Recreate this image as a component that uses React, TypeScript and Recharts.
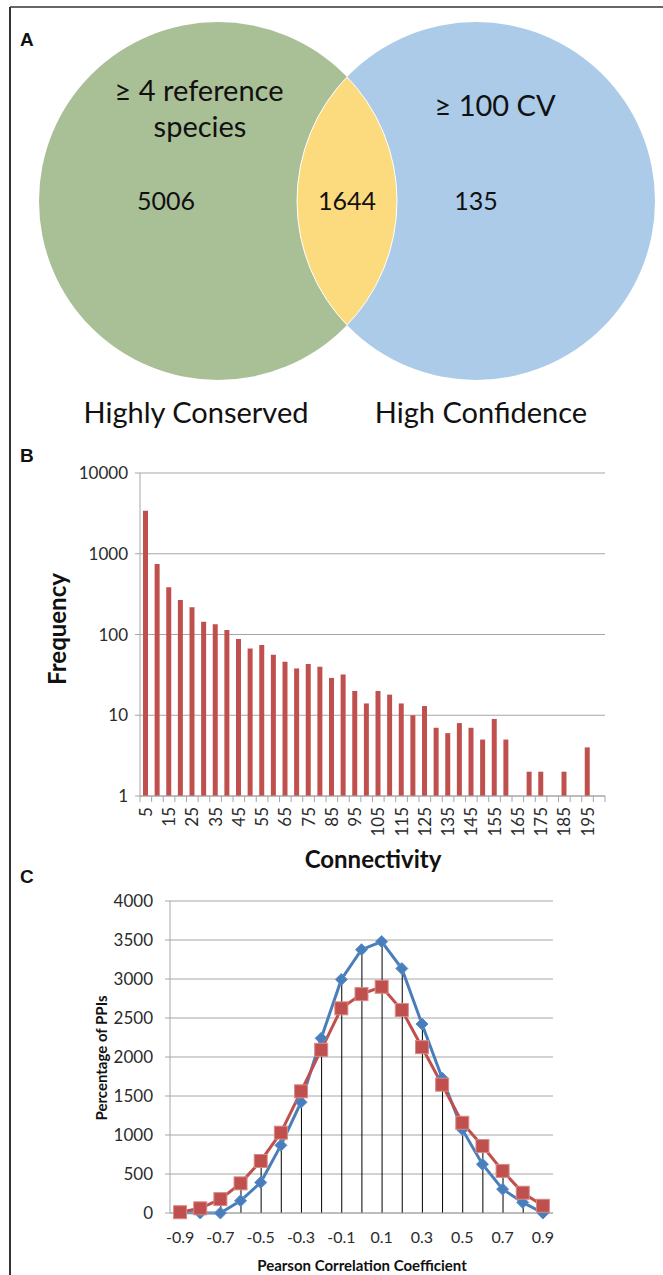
import React from 'react';
import { BarChart, Bar, ComposedChart, Line, XAxis, YAxis, CartesianGrid } from 'recharts';

// Panel A — Venn counts
const vennLeftLabel = ['≥ 4 reference', 'species'];
const vennRightLabel = '≥ 100 CV';
const vennCounts = { conservedOnly: 5006, both: 1644, confidenceOnly: 135 };
const vennSetNames = ['Highly Conserved', 'High Confidence'];

// Panel B — connectivity histogram (log scale)
const connectivity = [
  '5', '10', '15', '20', '25', '30', '35', '40', '45', '50',
  '55', '60', '65', '70', '75', '80', '85', '90', '95', '100',
  '105', '110', '115', '120', '125', '130', '135', '140', '145', '150',
  '155', '160', '165', '170', '175', '180', '185', '190', '195', '200',
];
const frequency = [
  3400, 746, 384, 267, 217, 144, 134, 114, 88, 67,
  74, 56, 46, 38, 43, 40, 29, 32, 20, 14,
  20, 18, 14, 10, 13, 7, 6, 8, 7, 5,
  9, 5, null, 2, 2, null, 2, null, 4, null,
];
const freqTicks = [1, 10, 100, 1000, 10000];

// Panel C — Pearson correlation distribution
const pearson = ['-0.9', '-0.8', '-0.7', '-0.6', '-0.5', '-0.4', '-0.3', '-0.2', '-0.1', '0',
  '0.1', '0.2', '0.3', '0.4', '0.5', '0.6', '0.7', '0.8', '0.9'];
const blueSeries = [5, 0, 0, 157, 391, 867, 1420, 2240, 2994, 3376, 3480, 3134, 2423, 1730, 1071, 625, 306, 136, 0];
const redSeries = [10, 60, 178, 380, 667, 1030, 1560, 2092, 2624, 2806, 2900, 2602, 2126, 1645, 1157, 858, 540, 260, 93];
const ppiTicks = [0, 500, 1000, 1500, 2000, 2500, 3000, 3500, 4000];

const histData = connectivity.map((c, i) => ({ c, f: frequency[i] }));
const pearsonData = pearson.map((p, i) => ({ p, blue: blueSeries[i], red: redSeries[i] }));

const FONT = 'Lato, "Open Sans", sans-serif';
const GRID = '#a6a6a6';
const TXT = '#2b2b2b';
const RED = '#C0504D';
const BLUE = '#4A7EBB';

function ConnTick(props: any) {
  const { x, y, index, visibleTicksCount, width, payload } = props;
  const band = (width || 465) / (visibleTicksCount || 40);
  const left = x - band / 2;
  return (
    <g>
      <line x1={left} x2={left} y1={y} y2={y + 6} stroke={GRID} />
      {index === visibleTicksCount - 1 && (
        <line x1={x + band / 2} x2={x + band / 2} y1={y} y2={y + 6} stroke={GRID} />
      )}
      {index % 2 === 0 && (
        <text
          x={x}
          y={y + 11}
          transform={`rotate(-90 ${x} ${y + 11})`}
          textAnchor="end"
          dy="0.36em"
          fontSize={17}
          fontFamily={FONT}
          fill={TXT}
        >
          {payload.value}
        </text>
      )}
    </g>
  );
}

function Diamond(props: any) {
  const { cx, cy, index } = props;
  if (cx == null || cy == null) return <g key={index} />;
  const s = 6;
  return (
    <path
      key={index}
      d={`M${cx},${cy - s} L${cx + s},${cy} L${cx},${cy + s} L${cx - s},${cy} Z`}
      fill={BLUE}
      stroke="#5B8FD0"
      strokeWidth={1}
    />
  );
}

function Square(props: any) {
  const { cx, cy, index } = props;
  if (cx == null || cy == null) return <g key={index} />;
  const s = 6.5;
  return <rect key={index} x={cx - s} y={cy - s} width={2 * s} height={2 * s} fill={RED} stroke="#D98A88" strokeWidth={1} />;
}

function DropLine(props: any) {
  const { x, y, width, height } = props;
  if (height == null || height <= 0) return <g />;
  const cx = x + width / 2;
  return <line x1={cx} x2={cx} y1={y} y2={y + height} stroke="#000" strokeWidth={1} />;
}

function Venn() {
  const cy = 201;
  const r = 179;
  const gx = 218;
  const bx = 476;
  return (
    <svg width={663} height={440} style={{ position: 'absolute', left: 0, top: 0 }}>
      <defs>
        <clipPath id="greenClip">
          <circle cx={gx} cy={cy} r={r} />
        </clipPath>
        <clipPath id="blueClip">
          <circle cx={bx} cy={cy} r={r} />
        </clipPath>
      </defs>
      <circle cx={gx} cy={cy} r={r} fill="#A9BF96" />
      <circle cx={bx} cy={cy} r={r} fill="#ABCBE8" />
      <circle cx={bx} cy={cy} r={r} fill="#FCDA7E" clipPath="url(#greenClip)" />
      <circle cx={bx} cy={cy} r={r} fill="none" stroke="#fff" strokeWidth={1} clipPath="url(#greenClip)" />
      <circle cx={gx} cy={cy} r={r} fill="none" stroke="#fff" strokeWidth={1} clipPath="url(#blueClip)" />
      <g fontFamily={FONT} fill="#111" textAnchor="middle">
        <text x={199} y={101} fontSize={29}>{vennLeftLabel[0]}</text>
        <text x={200} y={137} fontSize={29}>{vennLeftLabel[1]}</text>
        <text x={495} y={116} fontSize={29}>{vennRightLabel}</text>
        <text x={166} y={210} fontSize={25}>{vennCounts.conservedOnly}</text>
        <text x={347} y={210} fontSize={25}>{vennCounts.both}</text>
        <text x={476} y={210} fontSize={25}>{vennCounts.confidenceOnly}</text>
        <text x={196} y={423} fontSize={29}>{vennSetNames[0]}</text>
        <text x={481} y={423} fontSize={29}>{vennSetNames[1]}</text>
      </g>
    </svg>
  );
}

export default function App() {
  return (
    <div style={{ position: 'absolute', left: 0, top: 0, width: 663, height: 1275, background: '#fff', overflow: 'hidden' }}>
      <Venn />

      <div style={{ position: 'absolute', left: 0, top: 440 }}>
        <BarChart
          width={663}
          height={430}
          data={histData}
          margin={{ top: 33, right: 58, left: 80, bottom: 24 }}
          barSize={5}
        >
          <CartesianGrid vertical={false} stroke={GRID} />
          <XAxis
            dataKey="c"
            interval={0}
            tickLine={false}
            tickSize={0}
            tickMargin={0}
            height={50}
            stroke={GRID}
            tick={<ConnTick />}
          />
          <YAxis
            scale="log"
            domain={[1, 10000]}
            ticks={freqTicks}
            allowDataOverflow
            width={60}
            stroke={GRID}
            tickSize={5}
            tickMargin={7}
            tick={{ fontSize: 17, fontFamily: FONT, fill: TXT }}
          />
          <Bar dataKey="f" fill={RED} isAnimationActive={false} />
        </BarChart>
      </div>

      <div style={{ position: 'absolute', left: 0, top: 870 }}>
        <ComposedChart
          width={663}
          height={405}
          data={pearsonData}
          margin={{ top: 31, right: 110, left: 110, bottom: 22 }}
          barSize={1}
        >
          <CartesianGrid vertical={false} stroke={GRID} />
          <XAxis
            dataKey="p"
            interval={1}
            tickLine={false}
            tickSize={6}
            tickMargin={13}
            height={40}
            stroke={GRID}
            tick={{ fontSize: 16, fontFamily: FONT, fill: TXT }}
          />
          <YAxis
            domain={[0, 4000]}
            ticks={ppiTicks}
            width={60}
            stroke={GRID}
            tickSize={5}
            tickMargin={12}
            tick={{ fontSize: 17, fontFamily: FONT, fill: TXT }}
          />
          <Line dataKey="blue" stroke={BLUE} strokeWidth={3} dot={<Diamond />} isAnimationActive={false} />
          <Line dataKey="red" stroke={RED} strokeWidth={3} dot={<Square />} isAnimationActive={false} />
          <Bar dataKey={(d: any) => Math.max(d.blue, d.red)} shape={<DropLine />} isAnimationActive={false} />
        </ComposedChart>
      </div>

      <svg width={663} height={1275} style={{ position: 'absolute', left: 0, top: 0, pointerEvents: 'none' }}>
        <line x1={10} x2={663} y1={7} y2={7} stroke="#333" strokeWidth={1.5} />
        <line x1={10} x2={10} y1={7} y2={1275} stroke="#333" strokeWidth={2} />
        <g fontFamily='"Liberation Sans", Arial, sans-serif' fontWeight="bold" fontSize={19} fill="#111">
          <text x={20} y={46}>A</text>
          <text x={20} y={462}>B</text>
          <text x={20} y={883}>C</text>
        </g>
        <g fontFamily={FONT} fontWeight="bold" fill="#111" textAnchor="middle">
          <text x={0} y={0} fontSize={24} transform="translate(58 629) rotate(-90)" dy="0.35em">Frequency</text>
          <text x={373} y={868} fontSize={24}>Connectivity</text>
          <text x={0} y={0} fontSize={15} transform="translate(102 1058) rotate(-90)" dy="0.35em">Percentage of PPIs</text>
          <text x={362} y={1271} fontSize={15}>Pearson Correlation Coefficient</text>
        </g>
      </svg>
    </div>
  );
}
